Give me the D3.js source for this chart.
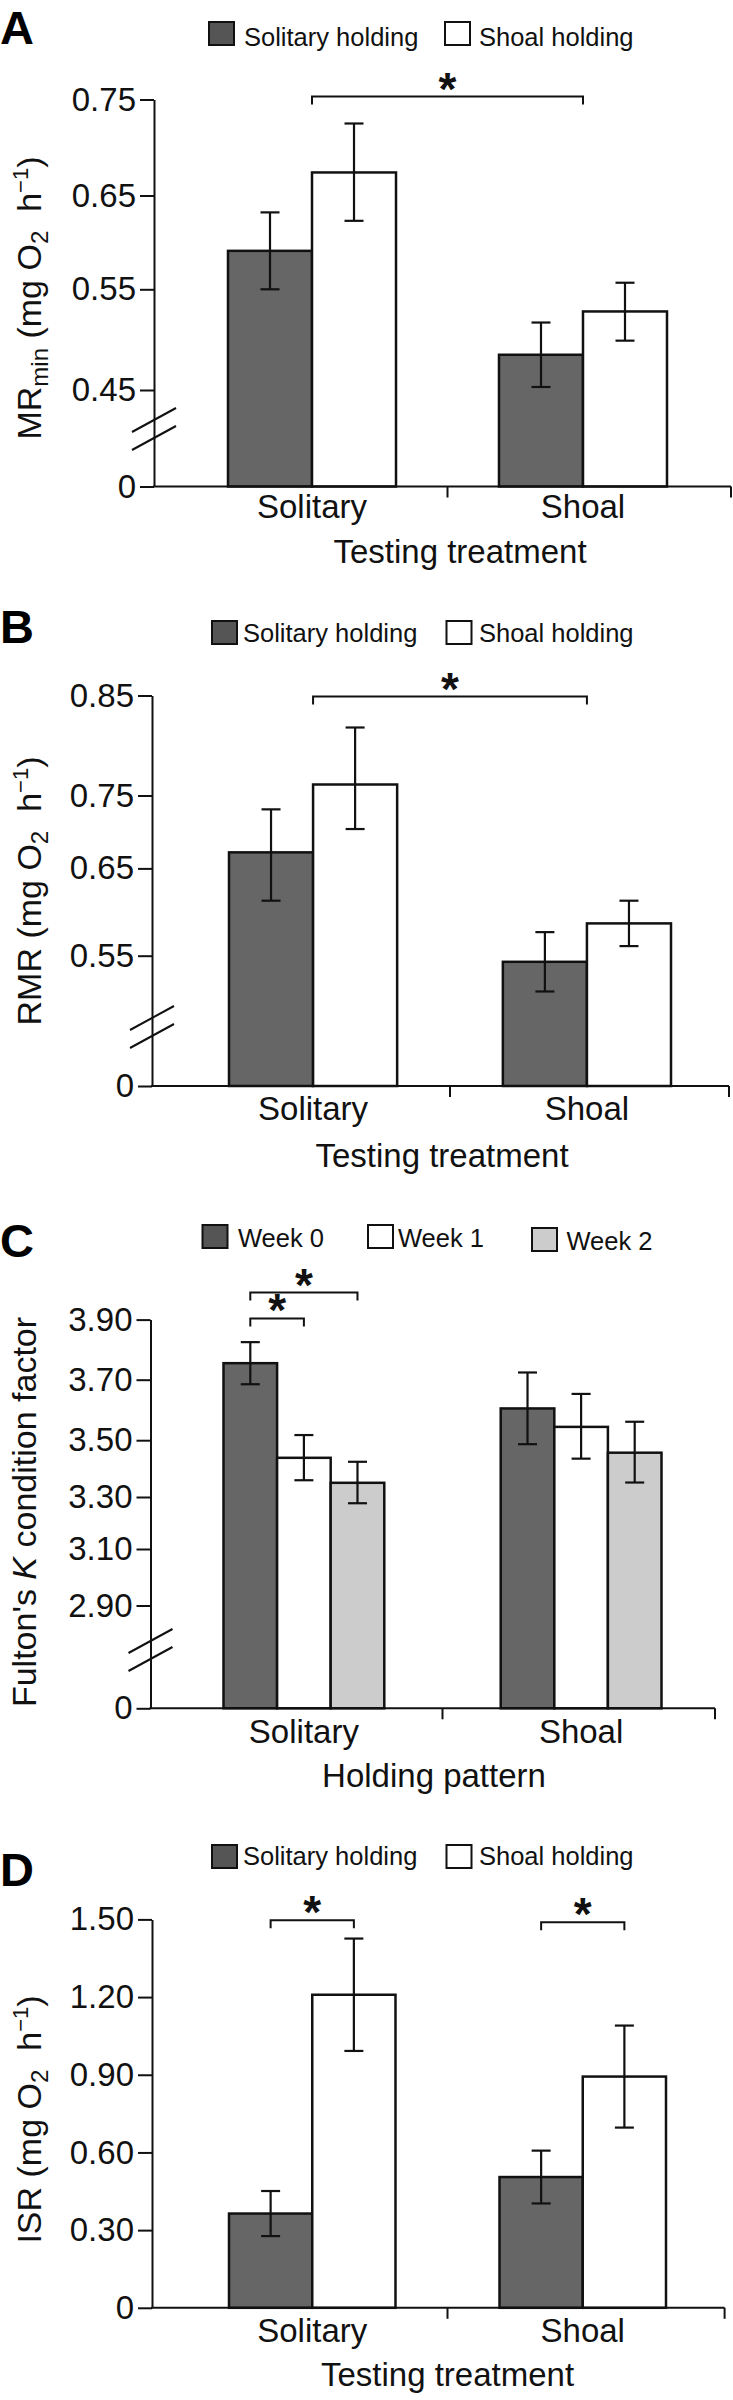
<!DOCTYPE html>
<html><head><meta charset="utf-8">
<script src="https://cdn.jsdelivr.net/npm/d3@7"></script>
<style>
body{margin:0;background:#fff;}
svg{display:block;}
</style></head><body>
<svg id="chart" width="733" height="2400"></svg>
<script>
// ================= DATA =================
const testingGroups = ["Solitary", "Shoal"];
const holdingSeries = ["Solitary holding", "Shoal holding"];
const weekSeries = ["Week 0", "Week 1", "Week 2"];

// Panel A – MRmin (mg O2 h-1)
const mrminSolitaryHolding   = [0.591, 0.485];
const mrminShoalHolding      = [0.674, 0.528];
const mrminSolitaryHoldingSE = [0.041, 0.032];
const mrminShoalHoldingSE    = [0.051, 0.029];
const mrminTicks      = [0, 0.45, 0.55, 0.65, 0.75];
const mrminTickLabels = ["0", "0.45", "0.55", "0.65", "0.75"];

// Panel B – RMR (mg O2 h-1)
const rmrSolitaryHolding   = [0.672, 0.543];
const rmrShoalHolding      = [0.761, 0.587];
const rmrSolitaryHoldingSE = [0.059, 0.034];
const rmrShoalHoldingSE    = [0.057, 0.026];
const rmrTicks      = [0, 0.55, 0.65, 0.75, 0.85];
const rmrTickLabels = ["0", "0.55", "0.65", "0.75", "0.85"];

// Panel C – Fulton's K condition factor
const kWeek0   = [3.755, 3.605];
const kWeek1   = [3.438, 3.544];
const kWeek2   = [3.350, 3.456];
const kWeek0SE = [0.070, 0.119];
const kWeek1SE = [0.079, 0.109];
const kWeek2SE = [0.074, 0.105];
const kTicks      = [0, 2.90, 3.10, 3.30, 3.50, 3.70, 3.90];
const kTickLabels = ["0", "2.90", "3.10", "3.30", "3.50", "3.70", "3.90"];

// Panel D – ISR (mg O2 h-1)
const isrSolitaryHolding   = [0.364, 0.505];
const isrShoalHolding      = [1.209, 0.893];
const isrSolitaryHoldingSE = [0.087, 0.102];
const isrShoalHoldingSE    = [0.217, 0.197];
const isrTicks      = [0, 0.30, 0.60, 0.90, 1.20, 1.50];
const isrTickLabels = ["0", "0.30", "0.60", "0.90", "1.20", "1.50"];

// Significance annotations
const mrminSig = [{ from: "Solitary", to: "Shoal", level: 0.753 }];
const rmrSig   = [{ from: "Solitary", to: "Shoal", level: 0.849 }];
const kSig     = [{ group: "Solitary", from: "Week 0", to: "Week 1", level: 3.904 },
                  { group: "Solitary", from: "Week 0", to: "Week 2", level: 3.990 }];
const isrSig   = [{ group: "Solitary", from: "Solitary holding", to: "Shoal holding", level: 1.497 },
                  { group: "Shoal",    from: "Solitary holding", to: "Shoal holding", level: 1.489 }];

// ================= STYLE =================
const FONT = "'Liberation Sans', Arial, Helvetica, sans-serif";
const barFill = { "Solitary holding": "#666666", "Shoal holding": "#ffffff",
                  "Week 0": "#666666", "Week 1": "#ffffff", "Week 2": "#cccccc" };
const legendFill = { "Solitary holding": "#555555", "Shoal holding": "#ffffff",
                     "Week 0": "#555555", "Week 1": "#ffffff", "Week 2": "#cccccc" };

const svg = d3.select("#chart").attr("font-family", FONT);

function drawPanel(p) {
  const g = svg.append("g");
  const yAxisScale = d3.scaleLinear().domain(p.ticks).range(p.tickPx);
  const y = p.broken
    ? d3.scaleLinear().domain(p.ticks.slice(1)).range(p.tickPx.slice(1))
    : yAxisScale;
  const baseY = yAxisScale(0);

  const x0 = d3.scaleBand().domain(p.groups).range(p.barRange).paddingInner(p.padInner);
  const x1 = d3.scaleBand().domain(p.series).range([0, x0.bandwidth()]);

  const rows = [];
  p.series.forEach((s, si) => p.groups.forEach((gr, gi) => {
    rows.push({ series: s, group: gr, v: p.values[si][gi], se: p.errors[si][gi] });
  }));

  // bars
  g.selectAll("rect.bar").data(rows).join("rect")
    .attr("class", "bar")
    .attr("x", d => x0(d.group) + x1(d.series))
    .attr("y", d => y(d.v))
    .attr("width", x1.bandwidth())
    .attr("height", d => baseY - y(d.v))
    .attr("fill", d => barFill[d.series])
    .attr("stroke", "#111").attr("stroke-width", 2.5);

  // error bars
  const cap = 9.5;
  const cx = d => x0(d.group) + x1(d.series) + x1.bandwidth() / 2;
  const eb = g.selectAll("g.err").data(rows).join("g").attr("class", "err")
    .attr("stroke", "#111").attr("stroke-width", 2.2);
  eb.append("line").attr("x1", cx).attr("x2", cx)
    .attr("y1", d => y(d.v + d.se)).attr("y2", d => y(d.v - d.se));
  eb.append("line").attr("x1", d => cx(d) - cap).attr("x2", d => cx(d) + cap)
    .attr("y1", d => y(d.v + d.se)).attr("y2", d => y(d.v + d.se));
  eb.append("line").attr("x1", d => cx(d) - cap).attr("x2", d => cx(d) + cap)
    .attr("y1", d => y(d.v - d.se)).attr("y2", d => y(d.v - d.se));

  // y axis
  const axis = d3.axisLeft(yAxisScale).tickValues(p.ticks)
    .tickFormat((d, i) => p.tickLabels[i]).tickSize(14).tickSizeOuter(0).tickPadding(4);
  const ag = g.append("g").attr("transform", `translate(${p.axisX},0)`).call(axis)
    .attr("font-size", 33).attr("font-family", FONT);
  ag.select(".domain").attr("stroke", "#111").attr("stroke-width", 2);
  ag.selectAll(".tick line").attr("stroke", "#111").attr("stroke-width", 2);
  ag.selectAll(".tick text").attr("fill", "#111");

  // axis break
  if (p.broken) {
    [-9, 9].forEach(off => {
      g.append("line")
        .attr("x1", p.axisX + 22).attr("y1", p.breakY + off - 12)
        .attr("x2", p.axisX - 22).attr("y2", p.breakY + off + 12)
        .attr("stroke", "#111").attr("stroke-width", 2);
    });
  }

  // x axis
  g.append("line").attr("x1", p.axisX - 1).attr("x2", p.xEnd).attr("y1", baseY).attr("y2", baseY)
    .attr("stroke", "#111").attr("stroke-width", 2);
  const mid = x0(p.groups[1]) - x0.step() * p.padInner / 2;
  [mid, p.xEnd].forEach(xx => {
    g.append("line").attr("x1", xx).attr("x2", xx).attr("y1", baseY).attr("y2", baseY + 11)
      .attr("stroke", "#111").attr("stroke-width", 2);
  });

  // group labels
  g.selectAll("text.grp").data(p.groups).join("text").attr("class", "grp")
    .attr("x", d => x0(d) + x0.bandwidth() / 2)
    .attr("y", baseY + p.labelDy)
    .attr("text-anchor", "middle").attr("font-size", 33).attr("fill", "#111")
    .text(d => d);

  // x title
  g.append("text").attr("x", p.xTitle[0]).attr("y", p.xTitle[1])
    .attr("text-anchor", "middle").attr("font-size", 33).attr("fill", "#111").text(p.xTitleText);

  // y title
  const yt = g.append("text")
    .attr("transform", `translate(${p.yTitle[0]},${p.yTitle[1]}) rotate(-90)`)
    .attr("text-anchor", "middle").attr("font-size", 34).attr("fill", "#111");
  p.yTitleBuild(yt);

  // panel letter
  g.append("text").attr("x", 0).attr("y", p.letterY).attr("font-size", 47)
    .attr("font-weight", "bold").attr("fill", "#000").text(p.letter);

  // legend
  p.series.forEach((s, i) => {
    const dy = p.legend.dy ? p.legend.dy[i] : 0;
    g.append("rect").attr("x", p.legend.swatchX[i]).attr("y", p.legend.top + dy)
      .attr("width", 25).attr("height", 23)
      .attr("fill", legendFill[s]).attr("stroke", "#111").attr("stroke-width", 2);
    g.append("text").attr("x", p.legend.textX[i])
      .attr("y", p.legend.baseline + dy)
      .attr("font-size", 25.5).attr("fill", "#111").text(s);
  });

  // significance
  p.sig.forEach(sg => {
    let xa, xb;
    if (sg.group) {
      xa = x0(sg.group) + x1(sg.from) + x1.bandwidth() / 2;
      xb = x0(sg.group) + x1(sg.to) + x1.bandwidth() / 2;
    } else {
      xa = x0(sg.from) + x0.bandwidth() / 2;
      xb = x0(sg.to) + x0.bandwidth() / 2;
    }
    const yb = y(sg.level);
    g.append("path").attr("d", `M${xa},${yb + 8}V${yb}H${xb}V${yb + 8}`)
      .attr("fill", "none").attr("stroke", "#111").attr("stroke-width", 2);
    g.append("text").attr("x", (xa + xb) / 2).attr("y", yb + 8)
      .attr("text-anchor", "middle").attr("font-size", 46).attr("font-weight", "bold")
      .attr("fill", "#111").text("*");
  });
}

function unitTitle(prefix, sub) {
  return t => {
    t.append("tspan").text(prefix);
    if (sub) {
      t.append("tspan").attr("font-size", 24).attr("dy", 7).text(sub);
      t.append("tspan").attr("dy", -7).text(" (mg O");
    } else {
      t.append("tspan").text(" (mg O");
    }
    t.append("tspan").attr("font-size", 24).attr("dy", 7).text("2");
    t.append("tspan").attr("dy", -7).text("\u00a0\u00a0h");
    t.append("tspan").attr("font-size", 22).attr("dy", -13).text("\u22121");
    t.append("tspan").attr("dy", 13).text(")");
  };
}

// Panel A
drawPanel({
  letter: "A", letterY: 44,
  groups: testingGroups, series: holdingSeries,
  values: [mrminSolitaryHolding, mrminShoalHolding],
  errors: [mrminSolitaryHoldingSE, mrminShoalHoldingSE],
  ticks: mrminTicks, tickLabels: mrminTickLabels,
  tickPx: [486.5, 390, 289.3, 195.5, 99.5], broken: true, breakY: 429,
  axisX: 154, xEnd: 731, barRange: [228, 667], padInner: 0.38,
  labelDy: 31, xTitle: [460, 563], xTitleText: "Testing treatment",
  yTitle: [41, 298], yTitleBuild: unitTitle("MR", "min"),
  legend: { swatchX: [209, 445], textX: [244, 479], top: 22, baseline: 45.5 },
  sig: mrminSig
});

// Panel B
drawPanel({
  letter: "B", letterY: 643,
  groups: testingGroups, series: holdingSeries,
  values: [rmrSolitaryHolding, rmrShoalHolding],
  errors: [rmrSolitaryHoldingSE, rmrShoalHoldingSE],
  ticks: rmrTicks, tickLabels: rmrTickLabels,
  tickPx: [1086, 955.7, 868.4, 795.5, 695.5], broken: true, breakY: 1027,
  axisX: 152, xEnd: 729, barRange: [229, 671], padInner: 0.386,
  labelDy: 33.5, xTitle: [442, 1167], xTitleText: "Testing treatment",
  yTitle: [41, 891], yTitleBuild: unitTitle("RMR", null),
  legend: { swatchX: [212, 446.5], textX: [243, 479], top: 621, baseline: 641.5 },
  sig: rmrSig
});

// Panel C
drawPanel({
  letter: "C", letterY: 1257,
  groups: testingGroups, series: weekSeries,
  values: [kWeek0, kWeek1, kWeek2],
  errors: [kWeek0SE, kWeek1SE, kWeek2SE],
  ticks: kTicks, tickLabels: kTickLabels,
  tickPx: [1708.3, 1605.5, 1549, 1497, 1440.2, 1379.7, 1319.6], broken: true, breakY: 1650,
  axisX: 150.5, xEnd: 715, barRange: [223.5, 661.5], padInner: 0.42,
  labelDy: 35, xTitle: [434, 1787], xTitleText: "Holding pattern",
  yTitle: [36, 1512], yTitleBuild: t => {
    t.append("tspan").text("Fulton's ");
    t.append("tspan").attr("font-style", "italic").text("K");
    t.append("tspan").text(" condition factor");
  },
  legend: { swatchX: [202.5, 368, 532], textX: [238, 398, 566.5], top: 1225, baseline: 1246.5, dy: [0, 0, 3] },
  sig: kSig
});

// Panel D
const isrPx = d3.scaleLinear().domain([0, 1.5]).range([2307.8, 1919.4]);
drawPanel({
  letter: "D", letterY: 1886,
  groups: testingGroups, series: holdingSeries,
  values: [isrSolitaryHolding, isrShoalHolding],
  errors: [isrSolitaryHoldingSE, isrShoalHoldingSE],
  ticks: isrTicks, tickLabels: isrTickLabels,
  tickPx: isrTicks.map(isrPx), broken: false,
  axisX: 152, xEnd: 724.6, barRange: [229, 666], padInner: 0.3845,
  labelDy: 33.7, xTitle: [447.5, 2385.5], xTitleText: "Testing treatment",
  yTitle: [41, 2119.5], yTitleBuild: unitTitle("ISR", null),
  legend: { swatchX: [212, 446.5], textX: [243, 479], top: 1845, baseline: 1865 },
  sig: isrSig
});
</script>
</body></html>
